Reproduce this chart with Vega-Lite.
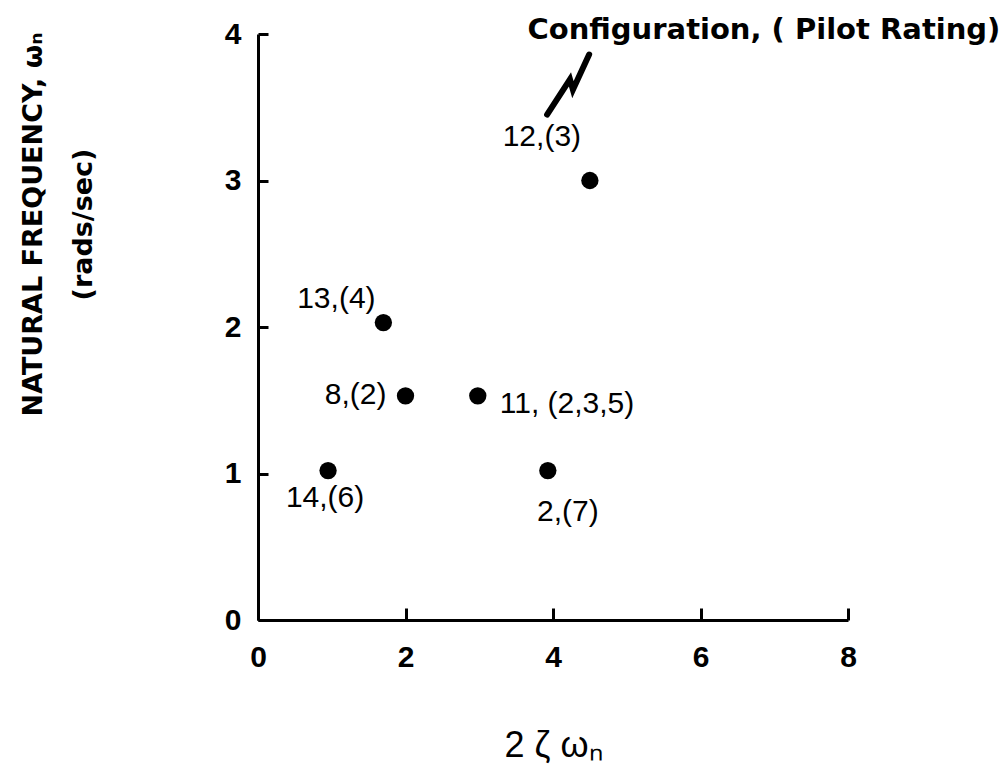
{
  "$schema": "https://vega.github.io/schema/vega-lite/v6.json",
  "autosize": {"type": "none"},
  "width": 590,
  "height": 586,
  "padding": {"left": 258, "top": 34, "right": 157, "bottom": 150},
  "background": "white",
  "config": {
    "view": {"stroke": null},
    "font": "Liberation Sans",
    "axis": {"labelFontSize": 30, "labelFontWeight": "bold", "labelColor": "black", "labelFont": "Liberation Sans"}
  },
  "resolve": {"axis": {"x": "independent", "y": "independent"}},
  "datasets": {
    "points": [
      {"config": "12", "label": "12,(3)", "x": 4.5, "y": 3.0},
      {"config": "13", "label": "13,(4)", "x": 1.7, "y": 2.03},
      {"config": "8", "label": "8,(2)", "x": 2.0, "y": 1.53},
      {"config": "11", "label": "11, (2,3,5)", "x": 2.98, "y": 1.53},
      {"config": "14", "label": "14,(6)", "x": 0.95, "y": 1.02},
      {"config": "2", "label": "2,(7)", "x": 3.93, "y": 1.02}
    ],
    "zigzag": [
      {"order": 1, "x": 3.92, "y": 3.45},
      {"order": 2, "x": 4.23, "y": 3.69},
      {"order": 3, "x": 4.27, "y": 3.62},
      {"order": 4, "x": 4.49, "y": 3.86}
    ],
    "note": [
      {"x": 6.86, "y": 4.03, "text": "Configuration, ( Pilot Rating)"}
    ]
  },
  "layer": [
    {
      "data": {"name": "points"},
      "mark": {"type": "point", "filled": true, "shape": "circle", "size": 300, "color": "black", "opacity": 1},
      "encoding": {
        "x": {
          "field": "x", "type": "quantitative",
          "scale": {"domain": [0, 8], "nice": false, "zero": false},
          "axis": {
            "values": [0, 2, 4, 6, 8], "grid": false, "format": "d",
            "domainColor": "black", "domainWidth": 3,
            "ticks": false,
            "labelPadding": 22, "labelFontSize": 30, "labelFontWeight": "bold", "labelColor": "black",
            "labelFlush": false,
            "title": "2 ζ ωₙ", "titleFontSize": 36, "titleFontWeight": "normal", "titleColor": "black",
            "titleX": 295, "titleY": 125, "titleBaseline": "middle", "titleAlign": "center"
          }
        },
        "y": {
          "field": "y", "type": "quantitative",
          "scale": {"domain": [0, 4], "nice": false, "zero": false},
          "axis": {
            "values": [0, 1, 2, 3, 4], "grid": false, "format": "d",
            "domainColor": "black", "domainWidth": 3,
            "ticks": false,
            "labelPadding": 17, "labelFontSize": 30, "labelFontWeight": "bold", "labelColor": "black",
            "labelFlush": false,
            "title": ["NATURAL FREQUENCY, ωₙ", "(rads/sec)"],
            "titleFont": "DejaVu Sans",
            "titleFontSize": 27, "titleFontWeight": "bold", "titleColor": "black",
            "titleLineHeight": 50,
            "titleX": -225, "titleY": 190, "titleBaseline": "middle", "titleAlign": "center", "titleAngle": -90
          }
        }
      }
    },
    {
      "data": {"name": "zigzag"},
      "mark": {"type": "line", "color": "black", "strokeWidth": 6, "strokeCap": "round", "strokeJoin": "miter"},
      "encoding": {
        "x": {
          "field": "x", "type": "quantitative",
          "axis": {"orient": "top", "offset": -586, "values": [0, 2, 4, 6, 8], "grid": false, "domain": false,
            "labels": false, "title": null, "ticks": true, "tickSize": 12, "tickWidth": 3, "tickColor": "black"}
        },
        "y": {
          "field": "y", "type": "quantitative",
          "axis": {"orient": "right", "offset": -590, "values": [0, 1, 2, 3, 4], "grid": false, "domain": false,
            "labels": false, "title": null, "ticks": true, "tickSize": 10, "tickWidth": 3, "tickColor": "black"}
        },
        "order": {"field": "order", "type": "quantitative"}
      }
    },
    {
      "data": {"name": "note"},
      "mark": {"type": "text", "font": "DejaVu Sans", "fontSize": 29, "fontWeight": "bold", "color": "black", "align": "center", "baseline": "middle"},
      "encoding": {
        "x": {"field": "x", "type": "quantitative", "axis": null},
        "y": {"field": "y", "type": "quantitative", "axis": null},
        "text": {"field": "text"}
      }
    },
    {
      "data": {"name": "points"},
      "transform": [{"filter": "datum.config === '12'"}],
      "mark": {"type": "text", "fontSize": 30, "color": "black", "align": "center", "baseline": "middle", "dx": -48, "dy": -44},
      "encoding": {"x": {"field": "x", "type": "quantitative", "axis": null}, "y": {"field": "y", "type": "quantitative", "axis": null}, "text": {"field": "label"}}
    },
    {
      "data": {"name": "points"},
      "transform": [{"filter": "datum.config === '13'"}],
      "mark": {"type": "text", "fontSize": 30, "color": "black", "align": "center", "baseline": "middle", "dx": -47, "dy": -24},
      "encoding": {"x": {"field": "x", "type": "quantitative", "axis": null}, "y": {"field": "y", "type": "quantitative", "axis": null}, "text": {"field": "label"}}
    },
    {
      "data": {"name": "points"},
      "transform": [{"filter": "datum.config === '8'"}],
      "mark": {"type": "text", "fontSize": 30, "color": "black", "align": "right", "baseline": "middle", "dx": -19, "dy": -1},
      "encoding": {"x": {"field": "x", "type": "quantitative", "axis": null}, "y": {"field": "y", "type": "quantitative", "axis": null}, "text": {"field": "label"}}
    },
    {
      "data": {"name": "points"},
      "transform": [{"filter": "datum.config === '11'"}],
      "mark": {"type": "text", "fontSize": 30, "color": "black", "align": "left", "baseline": "middle", "dx": 22, "dy": 8},
      "encoding": {"x": {"field": "x", "type": "quantitative", "axis": null}, "y": {"field": "y", "type": "quantitative", "axis": null}, "text": {"field": "label"}}
    },
    {
      "data": {"name": "points"},
      "transform": [{"filter": "datum.config === '14'"}],
      "mark": {"type": "text", "fontSize": 30, "color": "black", "align": "center", "baseline": "middle", "dx": -3, "dy": 27},
      "encoding": {"x": {"field": "x", "type": "quantitative", "axis": null}, "y": {"field": "y", "type": "quantitative", "axis": null}, "text": {"field": "label"}}
    },
    {
      "data": {"name": "points"},
      "transform": [{"filter": "datum.config === '2'"}],
      "mark": {"type": "text", "fontSize": 30, "color": "black", "align": "center", "baseline": "middle", "dx": 20, "dy": 41},
      "encoding": {"x": {"field": "x", "type": "quantitative", "axis": null}, "y": {"field": "y", "type": "quantitative", "axis": null}, "text": {"field": "label"}}
    }
  ]
}
